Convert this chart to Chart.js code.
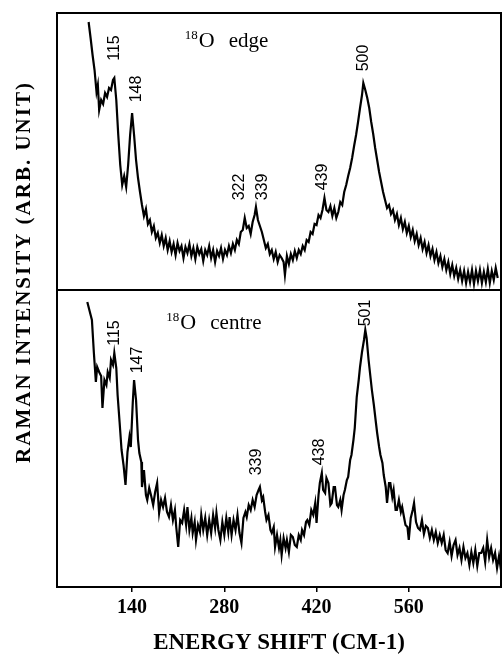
<!DOCTYPE html>
<html>
<head>
<meta charset="utf-8">
<script src="https://cdn.jsdelivr.net/npm/chart.js@4.4.1/dist/chart.umd.min.js"></script>
<style>
  html, body { margin: 0; padding: 0; background: #fff; }
</style>
</head>
<body>
<canvas id="ramanChart" width="502" height="655"></canvas>
<script>
// 18O edge spectrum (upper panel)
const edgeShift = [74,77,80,83,86,88,90,93,96,99,102,105,108,111,113,116,119,122,125,128,
  131,134,137,140,143,146,149,152,155,158,161,164,167,170,173,176,179,182,185,188,
  191,194,197,200,203,206,209,212,215,218,221,224,227,230,233,236,239,242,245,248,
  251,254,257,260,263,266,269,272,275,278,281,284,287,290,293,296,299,302,305,308,
  311,314,317,320,323,326,328,331,334,337,340,343,346,349,352,355,358,361,364,367,
  370,372,375,378,381,384,387,390,393,396,399,402,405,408,411,414,417,420,423,426,
  429,432,435,438,441,444,447,450,453,456,459,462,465,468,471,474,477,480,483,486,
  489,491,494,497,500,503,506,509,512,515,518,521,524,527,530,533,536,539,542,545,
  548,551,554,557,560,563,566,569,572,575,578,581,584,587,590,593,596,599,602,605,
  608,611,614,617,620,623,626,629,632,635,638,641,644,647,650,653,656,659,662,665,
  668,671,674,677,680,683,686,689,692,695];
const edgeCounts = [268,252,235,220,198,205,180,190,186,197,193,202,200,210,212,190,155,125,105,114,
  103,125,155,177,155,130,112,98,85,74,81,66,70,58,64,52,57,47,55,44,
  52,40,49,38,46,35,47,39,44,32,43,37,46,34,42,31,43,36,41,29,
  40,35,44,32,40,28,39,34,42,31,40,35,44,37,46,40,50,46,58,60,
  72,62,64,56,68,75,83,70,64,58,50,42,46,36,40,31,38,28,35,32,
  28,15,34,26,36,30,39,32,40,36,44,40,50,48,58,56,66,65,75,72,
  80,92,80,78,84,74,82,72,78,88,85,98,105,114,122,132,144,155,168,182,
  195,207,200,192,182,168,156,142,130,118,108,98,90,82,85,76,80,70,76,65,
  72,61,68,57,64,53,60,49,56,45,52,41,48,37,45,34,41,30,38,27,
  34,23,31,20,28,16,25,14,22,11,20,9,19,7,18,8,20,6,19,9,
  20,7,18,8,21,7,19,10,22,12];

// 18O centre spectrum (lower panel)
const centreShift = [72,79,82,85,87,90,93,95,98,101,103,106,108,111,113,116,118,121,124,127,130,
  133,136,138,141,143,146,149,151,154,155,158,161,163,166,169,172,175,178,181,184,
  187,190,193,196,199,202,205,207,210,213,216,219,222,224,227,230,232,235,237,240,
  243,245,248,251,254,257,260,263,266,268,271,274,277,280,283,286,288,291,294,297,
  300,303,306,309,312,314,317,320,323,326,329,332,334,337,339,342,344,347,350,352,
  355,357,360,363,365,367,370,373,375,378,381,384,387,390,393,396,398,401,404,406,
  409,412,415,418,420,423,425,428,430,433,435,438,441,443,446,448,451,453,456,458,
  461,463,466,468,471,473,476,478,481,484,486,489,492,494,496,499,502,504,507,510,
  512,515,517,520,522,525,527,530,532,535,537,540,542,545,548,550,553,555,558,560,
  563,566,568,571,574,577,580,583,586,589,592,595,598,601,604,607,610,613,616,619,
  622,625,628,631,634,637,640,643,646,649,652,655,658,661,664,667,670,673,676,679,
  682,685,688,691,694,697,700];
const centreCounts = [285,267,234,205,220,215,211,179,207,202,215,209,227,222,234,219,192,165,137,122,102,
  135,150,140,184,207,187,147,134,125,100,117,92,87,99,91,82,95,104,74,87,
  80,89,75,70,82,67,77,60,40,67,64,77,62,80,57,69,54,65,47,62,
  55,72,57,69,52,67,54,72,59,74,57,47,65,52,69,55,70,52,67,57,
  72,54,44,69,75,70,82,77,87,80,92,97,100,87,90,75,67,72,57,54,
  60,40,52,39,47,32,49,39,47,35,52,50,42,40,52,47,57,52,65,67,
  62,77,72,84,64,92,104,114,97,94,109,104,82,84,100,100,82,80,87,77,
  92,97,107,110,127,132,147,159,190,207,220,235,247,257,249,227,209,197,182,165,
  154,140,132,124,112,100,84,104,104,90,97,77,77,87,75,80,69,62,60,47,
  69,77,84,65,59,57,67,53,61,59,49,57,47,55,44,52,44,52,37,34,
  45,31,42,47,32,39,27,40,29,34,22,35,24,37,21,34,34,39,25,47,
  30,39,27,34,19,31,17];

const xTicks = [140, 280, 420, 560];

// peak annotations: label, wavenumber where it sits, intensity level of its centre
const edgePeaks = ['115', '148', '322', '339', '439', '500'];
const edgePeakShift = [114, 147, 303, 338, 429, 492];
const edgePeakLevel = [242, 201, 103, 103, 113, 232];
const centrePeaks = ['115', '147', '339', '438', '501'];
const centrePeakShift = [114, 149, 329, 425, 495];
const centrePeakLevel = [254, 227, 125, 135, 274];

const toPoints = (xs, ys) => xs.map((x, i) => ({ x: x, y: ys[i] }));

const SERIF = '"Liberation Serif", "Times New Roman", serif';

function drawSampleName(ctx, word, px, py) {
    ctx.textAlign = 'left';
    ctx.textBaseline = 'alphabetic';
    ctx.font = '13px ' + SERIF;
    ctx.fillText('18', px, py - 8);
    let cx = px + ctx.measureText('18').width + 1;
    ctx.font = '22px ' + SERIF;
    ctx.fillText('O', cx, py);
    cx += ctx.measureText('O').width + 14;
    ctx.font = '21px ' + SERIF;
    ctx.fillText(word, cx, py);
}

const panelDecor = {
    id: 'panelDecor',
    afterDatasetsDraw(chart) {
        const { ctx, chartArea: a, scales } = chart;
        const xs = scales.x, yE = scales.yEdge, yC = scales.yCentre;
        ctx.save();
        ctx.strokeStyle = '#000';
        ctx.lineWidth = 2;
        ctx.strokeRect(a.left, a.top, a.right - a.left, a.bottom - a.top);
        const sep = yC.getPixelForValue(297);
        ctx.beginPath();
        ctx.moveTo(a.left, sep);
        ctx.lineTo(a.right, sep);
        ctx.stroke();

        ctx.fillStyle = '#000';
        ctx.font = '16px "Liberation Sans", Arial, sans-serif';
        ctx.textAlign = 'center';
        ctx.textBaseline = 'middle';
        const upright = (txt, px, py) => {
            ctx.save();
            ctx.translate(px, py);
            ctx.rotate(-Math.PI / 2);
            ctx.fillText(txt, 0, 0);
            ctx.restore();
        };
        edgePeaks.forEach((t, i) => upright(t, xs.getPixelForValue(edgePeakShift[i]), yE.getPixelForValue(edgePeakLevel[i])));
        centrePeaks.forEach((t, i) => upright(t, xs.getPixelForValue(centrePeakShift[i]), yC.getPixelForValue(centrePeakLevel[i])));

        drawSampleName(ctx, 'edge', xs.getPixelForValue(220), yE.getPixelForValue(243));
        drawSampleName(ctx, 'centre', xs.getPixelForValue(192), yC.getPixelForValue(258));

        // shared y title across both panels
        ctx.save();
        ctx.translate(a.left - 32, yC.getPixelForValue(315));
        ctx.rotate(-Math.PI / 2);
        ctx.font = 'bold 21px ' + SERIF;
        ctx.letterSpacing = '2px';
        ctx.textAlign = 'center';
        ctx.textBaseline = 'middle';
        ctx.fillText('RAMAN INTENSITY (ARB. UNIT)', 0, 0);
        ctx.restore();
        ctx.restore();
    }
};

const lineStyle = { borderColor: '#000', borderWidth: 2.2, pointRadius: 0, tension: 0, fill: false };

new Chart(document.getElementById('ramanChart').getContext('2d'), {
    type: 'line',
    data: {
        datasets: [
            Object.assign({ label: '18O edge', data: toPoints(edgeShift, edgeCounts), yAxisID: 'yEdge' }, lineStyle),
            Object.assign({ label: '18O centre', data: toPoints(centreShift, centreCounts), yAxisID: 'yCentre' }, lineStyle)
        ]
    },
    options: {
        responsive: false,
        animation: false,
        layout: { padding: { left: 57, right: 1, top: 13, bottom: 0 } },
        plugins: { legend: { display: false }, tooltip: { enabled: false } },
        scales: {
            x: {
                type: 'linear',
                min: 26,
                max: 700,
                afterBuildTicks: s => { s.ticks = xTicks.map(v => ({ value: v })); },
                afterFit: s => { s.height = 68; },
                border: { display: false },
                grid: { drawOnChartArea: false, tickLength: 5, color: '#000', lineWidth: 1.5 },
                ticks: { color: '#000', padding: 4, maxRotation: 0, font: { family: SERIF, size: 20, weight: 'bold' } },
                title: { display: true, text: 'ENERGY SHIFT (CM-1)', color: '#000', padding: { top: 0, bottom: -2 },
                         font: { family: SERIF, size: 23, weight: 'bold' } }
            },
            yEdge: { display: false, min: -297, max: 277 },
            yCentre: { display: false, min: 0, max: 574 }
        }
    },
    plugins: [panelDecor]
});
</script>
</body>
</html>
